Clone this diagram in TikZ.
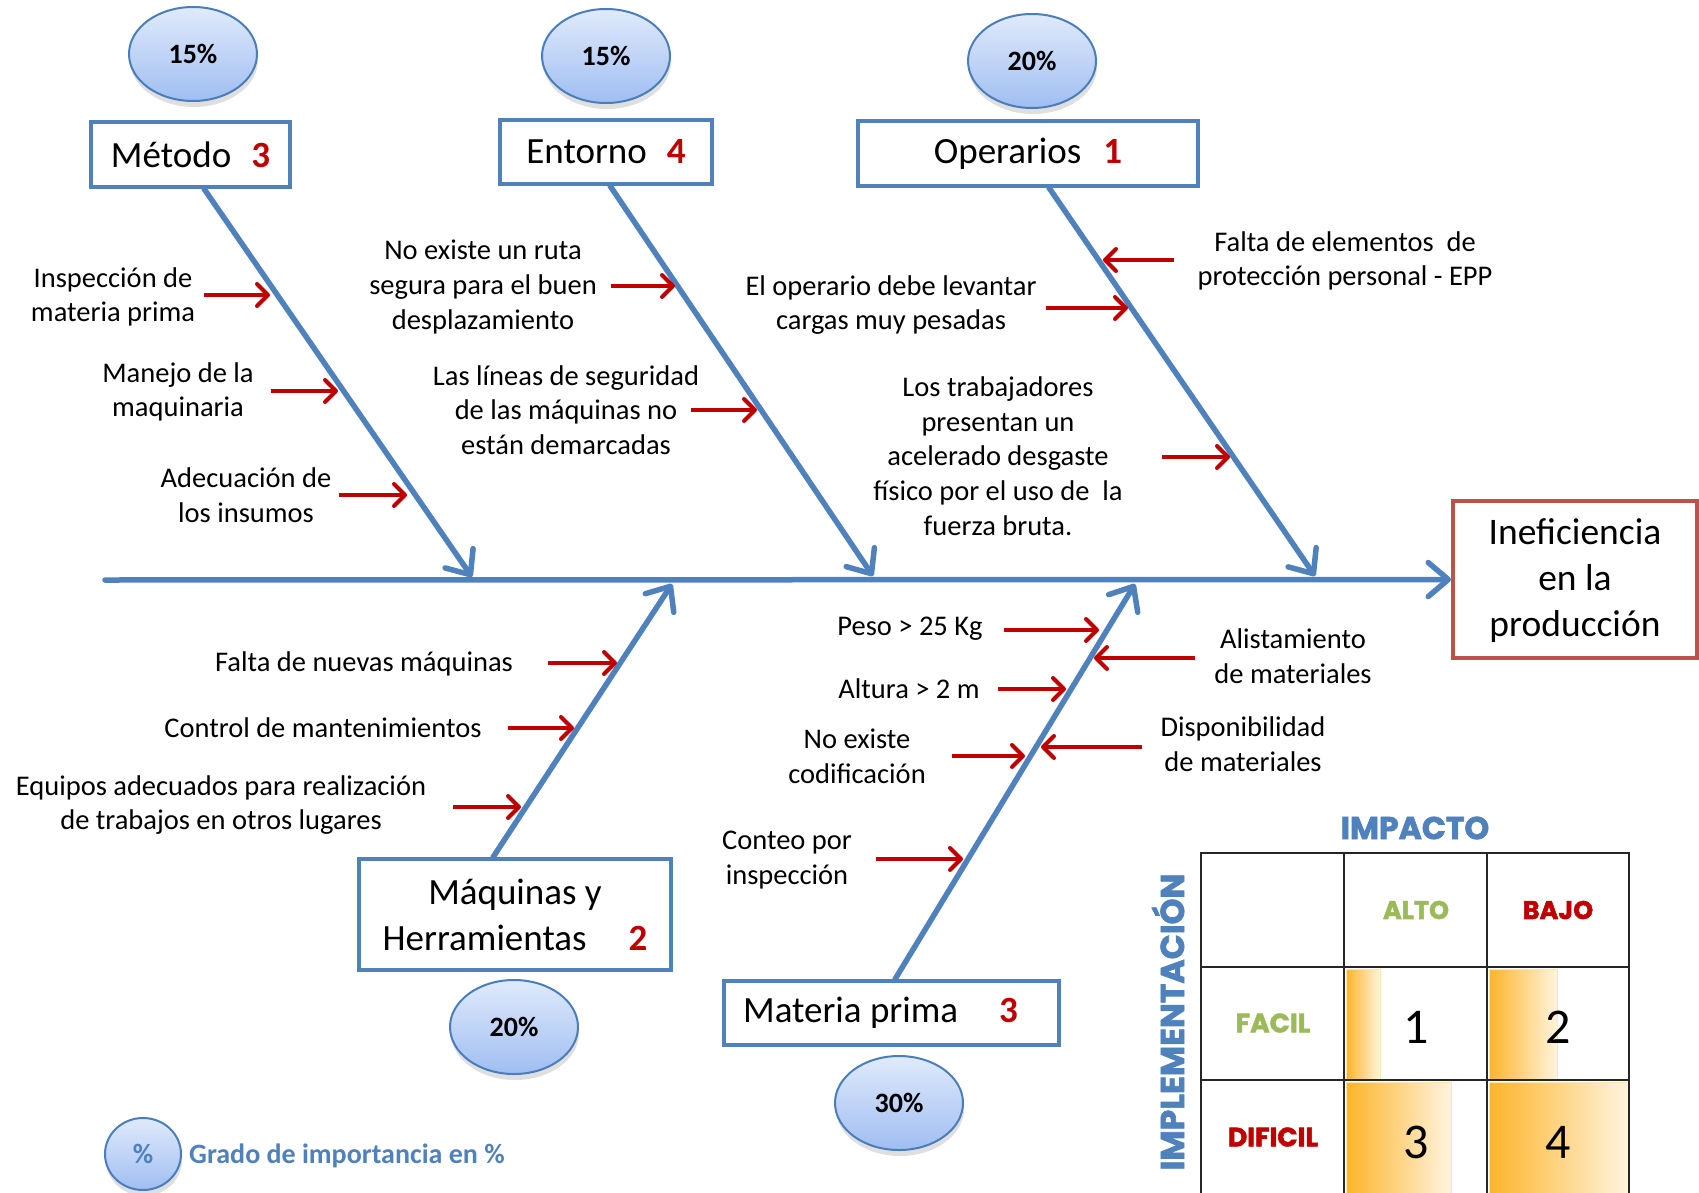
\documentclass[tikz,border=0pt]{standalone}
\usepackage{fontspec}
\setmainfont{Carlito}
\newfontfamily\heavyfont{Poppins}[FakeBold=2]
\usetikzlibrary{arrows.meta,shapes.geometric,shadows}
\definecolor{boneblue}{HTML}{4F81BD}
\definecolor{arrred}{HTML}{C00000}
\definecolor{effred}{HTML}{C0504D}
\definecolor{ellA}{HTML}{E0EAFB}
\definecolor{ellB}{HTML}{A0BEF2}
\definecolor{ellline}{HTML}{4A7EBB}
\definecolor{grn}{HTML}{9BBB59}
\definecolor{orA}{HTML}{FDB42A}
\definecolor{orB}{HTML}{FFF4DE}
\begin{document}
\begin{tikzpicture}[x=1pt,y=-1pt,
 txt/.style={align=center,inner sep=0pt,font=\fontsize{28.5}{34.7}\selectfont},
 catbox/.style={draw=boneblue,line width=3.5pt,fill=white,inner sep=0pt,align=center,font=\fontsize{37}{46}\selectfont},
 pct/.style={ellipse,draw=ellline,line width=2pt,top color=ellA,bottom color=ellB,minimum width=128pt,minimum height=94pt,inner sep=0pt,font=\bfseries\fontsize{28}{34}\selectfont,drop shadow={shadow xshift=1pt,shadow yshift=-6pt,opacity=0.25}},
 bone/.style={draw=boneblue,line width=5.5pt,line cap=round,-{Straight Barb[length=20pt,width=34pt,round]}},
 redarr/.style={draw=arrred,line width=4pt,-{Straight Barb[length=11pt,width=22pt,round]}},
 hv/.style={inner sep=0pt,font=\heavyfont\bfseries\fontsize{26.5}{30}\selectfont},
 hvbig/.style={inner sep=0pt,font=\heavyfont\bfseries\fontsize{33}{37}\selectfont},
 tnum/.style={inner sep=0pt,font=\fontsize{50}{60}\selectfont},
 gridline/.style={draw=black!85,line width=2pt}
]
\useasboundingbox (0,0) rectangle (1699,1193);
\fill[white] (0,0) rectangle (1699,1193);

% ---------- category boxes ----------
\node[catbox,minimum width=199pt,minimum height=65pt] (metodo) at (190.5,154.5) {Método\hspace{20pt}{\color{arrred}\bfseries 3}};
\node[catbox,minimum width=212pt,minimum height=64pt] (entorno) at (606,152) {Entorno\hspace{20pt}{\color{arrred}\bfseries 4}};
\node[catbox,minimum width=340pt,minimum height=65pt] (operarios) at (1028,153.5) {Operarios\hspace{22pt}{\color{arrred}\bfseries 1}};
\node[catbox,minimum width=312pt,minimum height=111pt] (maq) at (515,914.5) {Máquinas y\\Herramientas\hspace{42pt}{\color{arrred}\bfseries 2}};
\node[catbox,minimum width=335pt,minimum height=64pt] (mat) at (891.5,1013) {Materia prima\hspace{41pt}{\color{arrred}\bfseries 3}\hspace{22pt}};

% ---------- effect ----------
\node[draw=effred,line width=4pt,minimum width=244pt,minimum height=157pt,inner sep=0pt,align=center,text depth=3pt,font=\fontsize{37.5}{46}\selectfont] (eff) at (1575,579.5) {Ineficiencia\\en la\\producción};

% ---------- spine and bones ----------
\coordinate (sp0) at (105,580);
\draw[bone] (sp0) -- (eff.west);
\coordinate (b1) at (472,577);
\coordinate (b2) at (873,576);
\coordinate (b3) at (1315,576);
\coordinate (b4) at (672,584);
\coordinate (b5) at (1135,584);
\draw[bone] ([xshift=13.5pt]metodo.south) -- (b1);
\draw[bone] ([xshift=4pt]entorno.south) -- (b2);
\draw[bone] ([xshift=21pt]operarios.south) -- (b3);
\draw[bone] ([xshift=-22pt]maq.north) -- (b4);
\draw[bone] ([xshift=3.5pt]mat.north) -- (b5);

% ---------- percentage ellipses ----------
\node[pct] (e1) at (193,54) {15\%};
\node[pct] (e2) at (606,56) {15\%};
\node[pct] (e3) at (1032,61) {20\%};
\node[pct] (e4) at (514,1027) {20\%};
\node[pct] (e5) at (899,1103) {30\%};
\node[pct,minimum width=76pt,minimum height=72pt,text=boneblue] (e6) at (143,1154) {\%};
\node[anchor=west,inner sep=0pt,text=boneblue,font=\bfseries\fontsize{28}{34}\selectfont] (leg) at (189,1156) {Grado de importancia en \%};

% ---------- cause texts ----------
\node[txt] (t1) at (113,297) {Inspección de\\materia prima};
\node[txt] (t2) at (178,392) {Manejo de la\\maquinaria};
\node[txt] (t3) at (246,495) {Adecuación de\\los insumos};
\node[txt] (t4) at (483,287) {No existe un ruta\\segura para el buen\\desplazamiento};
\node[txt] (t5) at (566,410) {Las líneas de seguridad\\de las máquinas no\\están demarcadas};
\node[txt] (t6) at (1345,261) {Falta de elementos\ \ de\\protección personal - EPP};
\node[txt] (t7) at (891,305) {El operario debe levantar\\cargas muy pesadas};
\node[txt] (t8) at (998,456) {Los trabajadores\\presentan un\\acelerado desgaste\\físico por el uso de\ \ la\\fuerza bruta.};
\node[txt] (t9) at (364,664) {Falta de nuevas máquinas};
\node[txt] (t10) at (323,728) {Control de mantenimientos};
\node[txt] (t11) at (221,805) {Equipos adecuados para realización\\de trabajos en otros lugares};
\node[txt] (t12) at (910,629) {Peso > 25 Kg};
\node[txt] (t13) at (909,689) {Altura > 2 m};
\node[txt] (t14) at (857,756) {No existe\\codificación};
\node[txt] (t15) at (787,860) {Conteo por\\inspección};
\node[txt] (t16) at (1293,656) {Alistamiento\\de materiales};
\node[txt] (t17) at (1243,744) {Disponibilidad\\de materiales};

% ---------- red arrows ----------
\coordinate (a1s) at (204,295);  \coordinate (a1e) at (270,295);
\coordinate (a2s) at (271,391);  \coordinate (a2e) at (338,391);
\coordinate (a3s) at (339,495);  \coordinate (a3e) at (407,495);
\coordinate (a4s) at (611,286);  \coordinate (a4e) at (675,286);
\coordinate (a5s) at (691,410);  \coordinate (a5e) at (757,410);
\coordinate (a6s) at (1174,260); \coordinate (a6e) at (1103,260);
\coordinate (a7s) at (1046,308); \coordinate (a7e) at (1128,308);
\coordinate (a8s) at (1162,457); \coordinate (a8e) at (1230,457);
\coordinate (a9s) at (548,663);  \coordinate (a9e) at (617,663);
\coordinate (a10s) at (508,728); \coordinate (a10e) at (574,728);
\coordinate (a11s) at (453,807); \coordinate (a11e) at (521,807);
\coordinate (a12s) at (1004,630); \coordinate (a12e) at (1099,630);
\coordinate (a13s) at (998,689); \coordinate (a13e) at (1066,689);
\coordinate (a14s) at (952,756); \coordinate (a14e) at (1025,756);
\coordinate (a15s) at (876,859); \coordinate (a15e) at (963,859);
\coordinate (a16s) at (1195,658); \coordinate (a16e) at (1094,658);
\coordinate (a17s) at (1142,747); \coordinate (a17e) at (1041,747);
\foreach \i in {1,...,17} {\draw[redarr] (a\i s) -- (a\i e);}

% ---------- impact / implementation matrix ----------
\shade[left color=orA,right color=orB,draw=orA!35,line width=1pt] (1346,969) rectangle (1380,1079);
\shade[left color=orA,right color=orB,draw=orA!35,line width=1pt] (1489,969) rectangle (1557,1079);
\shade[left color=orA,right color=orB,draw=orA!35,line width=1pt] (1346,1082) rectangle (1451,1194);
\shade[left color=orA,right color=orB,draw=orA!35,line width=1pt] (1489,1082) rectangle (1628,1194);
\coordinate (g00) at (1201,853);
\coordinate (g11) at (1629,1194);
\draw[gridline] (g00) rectangle (g11);
\draw[gridline] (1344,853) -- (1344,1194);
\draw[gridline] (1487,853) -- (1487,1194);
\draw[gridline] (1201,967) -- (1629,967);
\draw[gridline] (1201,1080) -- (1629,1080);
\node[hvbig,text=boneblue,font=\heavyfont\bfseries\fontsize{31.5}{36}\selectfont] (imp) at (1415,828) {IMPACTO};
\node[hvbig,text=boneblue,rotate=90] (impl) at (1168,1022) {IMPLEMENTACIÓN};
\node[hv,text=grn,font=\heavyfont\bfseries\fontsize{25.5}{30}\selectfont] (alto) at (1416,910) {ALTO};
\node[hv,text=arrred,font=\heavyfont\bfseries\fontsize{25.5}{30}\selectfont] (bajo) at (1558,910) {BAJO};
\node[hv,text=grn] (facil) at (1273,1023) {FACIL};
\node[hv,text=arrred] (dificil) at (1273,1137) {DIFICIL};
\node[tnum] (n1) at (1416,1027) {1};
\node[tnum] (n2) at (1558,1027) {2};
\node[tnum] (n3) at (1416,1142) {3};
\node[tnum] (n4) at (1558,1142) {4};
\end{tikzpicture}
\end{document}
